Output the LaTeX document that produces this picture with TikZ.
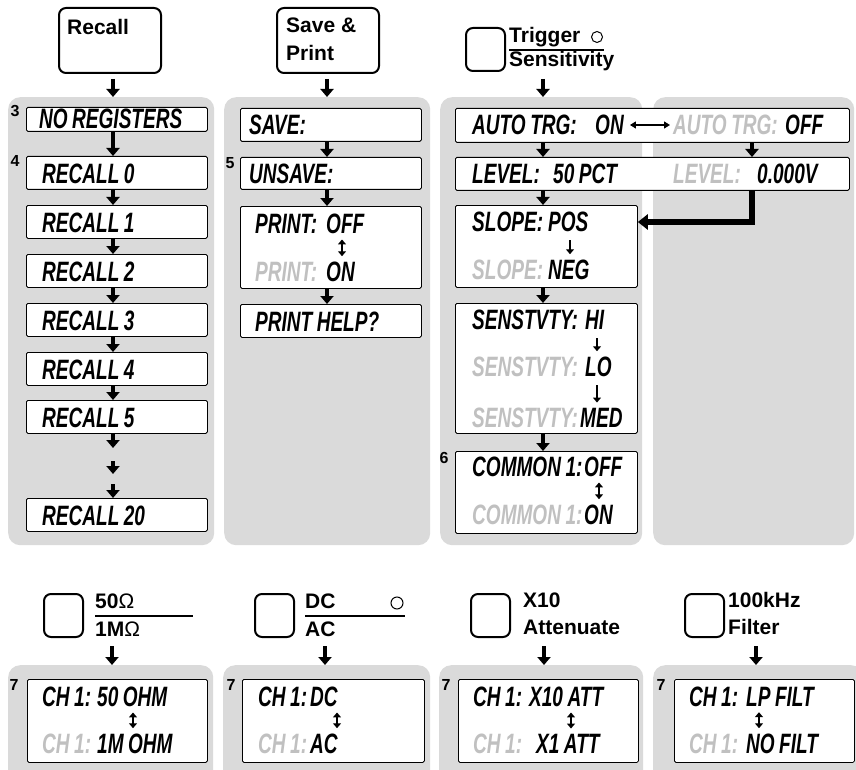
\documentclass[tikz,border=0pt]{standalone}
\usepackage{fontspec}
\setmainfont{Liberation Sans}
\newfontfamily\lcdfamily[FakeStretch=0.68]{Liberation Sans}
\usetikzlibrary{arrows.meta,positioning}

\definecolor{panelgray}{RGB}{218,218,218}
\definecolor{dimgray}{RGB}{192,192,192}

\newcommand{\lcdfont}{\lcdfamily\fontsize{28}{30}\selectfont\bfseries\itshape\spaceskip=0.16em}
\newcommand{\keyfont}{\fontsize{21}{24}\selectfont\bfseries}

\tikzset{
  panel/.style={fill=panelgray, rounded corners=12pt, anchor=north west, inner sep=0pt},
  keybox/.style={draw, line width=2pt, rounded corners=7pt, anchor=north west, inner sep=0pt},
  keysq/.style={keybox, minimum width=39pt, minimum height=43pt},
  lcdbox/.style={draw, fill=white, line width=0.8pt, rounded corners=1.5pt, anchor=north west, inner sep=0pt},
  lcdtext/.style={font=\lcdfont, anchor=base west, inner sep=0pt},
  dimtext/.style={lcdtext, text=dimgray},
  keylabel/.style={font=\keyfont, anchor=base west, inner sep=0pt},
  stepno/.style={font=\fontsize{16}{18}\selectfont\bfseries, inner sep=0pt},
  bigarrow/.style={line width=4.5pt, -{Triangle[width=13pt,length=8pt]}},
  elbowarrow/.style={line width=5.5pt, line join=miter, -{Triangle[width=15pt,length=10pt]}},
  flipflop/.style={line width=1.5pt, {Triangle[width=8pt,length=5pt]}-{Triangle[width=8pt,length=5pt]},
    shorten <=6pt, shorten >=5pt},
  downtick/.style={line width=1.4pt, -{Triangle[width=8pt,length=5pt]}, shorten <=9pt, shorten >=5pt},
}

\begin{document}
\begin{tikzpicture}[x=1pt, y=-1pt]
  \useasboundingbox (0,0) rectangle (856,770);

  % gray panels
  \node[panel, minimum width=206pt, minimum height=448pt] (p1) at (8,97) {};
  \node[panel, minimum width=206pt, minimum height=448pt] (p2) at (224,97) {};
  \node[panel, minimum width=202pt, minimum height=448pt] (p3) at (440,97) {};
  \node[panel, minimum width=201pt, minimum height=448pt] (p4) at (653,97) {};
  \node[panel, minimum width=205pt, minimum height=125pt] (q1) at (8,665) {};
  \node[panel, minimum width=207pt, minimum height=125pt] (q2) at (223,665) {};
  \node[panel, minimum width=204pt, minimum height=125pt] (q3) at (439,665) {};
  \node[panel, minimum width=210pt, minimum height=125pt] (q4) at (653,665) {};

  % arrow columns
  \coordinate (c1) at (113,0);
  \coordinate (c2) at (327,0);
  \coordinate (c3) at (543,0);
  \coordinate (c4) at (752,0);
  \coordinate (d1) at (112,0);
  \coordinate (d2) at (325,0);
  \coordinate (d3) at (544,0);
  \coordinate (d4) at (756,0);

  % ---- Recall ----
  \node[keybox, minimum width=102pt, minimum height=65pt] (recall) at (58,7) {};
  \node[keylabel] at (67,35) {Recall};
  \draw[bigarrow, shorten <=5pt] (recall.south -| c1) -- (p1.north -| c1);

  \node[lcdbox, minimum width=181pt, minimum height=24pt] (noreg) at (26,107) {};
  \node[lcdtext] at (39,129) {NO REGISTERS};
  \node[stepno] at (15,111) {3};
  \foreach \i/\y in {0/156,1/205,2/254,3/303,4/352,5/400,20/498}{
    \node[lcdbox, minimum width=181pt, minimum height=33pt] (rc\i) at (26,\y) {};
    \node[lcdtext] at (42,\y+27) {RECALL \i};
  }
  \node[stepno] at (15,161) {4};
  \draw[bigarrow] (noreg.south -| c1) -- (rc0.north -| c1);
  \foreach \a/\b in {0/1,1/2,2/3,3/4,4/5}{
    \draw[bigarrow] (rc\a.south -| c1) -- (rc\b.north -| c1);
  }
  \coordinate (gap1) at (113,448);
  \coordinate (gap2) at (113,461);
  \coordinate (gap3) at (113,474);
  \coordinate (gap4) at (113,484);
  \draw[bigarrow] (rc5.south -| c1) -- (gap1);
  \draw[bigarrow] (gap2) -- (gap3);
  \draw[bigarrow] (gap4) -- (rc20.north -| c1);

  % ---- Save & Print ----
  \node[keybox, minimum width=102pt, minimum height=65pt] (saveprint) at (276,7) {};
  \node[keylabel] at (286,33) {Save \&};
  \node[keylabel] at (286,61) {Print};
  \draw[bigarrow, shorten <=5pt] (saveprint.south -| c2) -- (p2.north -| c2);

  \node[lcdbox, minimum width=181pt, minimum height=33pt] (save) at (240,108) {};
  \node[lcdtext] at (249,135) {SAVE:};
  \node[lcdbox, minimum width=181pt, minimum height=32pt] (unsave) at (240,157) {};
  \node[lcdtext] at (249,184) {UNSAVE:};
  \node[stepno] at (230,163) {5};
  \node[lcdbox, minimum width=181pt, minimum height=82pt] (print) at (240,206) {};
  \node[lcdtext] at (255,233) {PRINT:};
  \node[lcdtext] (prtoff) at (326,233) {OFF};
  \node[dimtext] at (255,281) {PRINT:};
  \node[lcdtext] (prton) at (326,281) {ON};
  \coordinate (pf) at (342,0);
  \draw[flipflop] (prtoff.south -| pf) -- (prton.north -| pf);
  \node[lcdbox, minimum width=181pt, minimum height=33pt] (help) at (240,304) {};
  \node[lcdtext] at (255,331) {PRINT HELP?};
  \draw[bigarrow] (save.south -| c2) -- (unsave.north -| c2);
  \draw[bigarrow] (unsave.south -| c2) -- (print.north -| c2);
  \draw[bigarrow] (print.south -| c2) -- (help.north -| c2);

  % ---- Trigger / Sensitivity ----
  \node[keysq] (trig) at (465,27) {};
  \node[keylabel] at (509,43) {Trigger};
  \draw[line width=1pt] (597,37) circle (5.5);
  \draw[line width=2.2pt] (509,50) -- (604,50);
  \node[keylabel] at (509,67) {Sensitivity};
  \draw[bigarrow, shorten <=7pt] (trig.south -| c3) -- (p3.north -| c3);

  \node[lcdbox, minimum width=394pt, minimum height=34pt] (auto) at (455,108) {};
  \node[lcdtext] at (472,135) {AUTO TRG:};
  \node[lcdtext] (aon) at (595,135) {ON};
  \node[dimtext] (aoff) at (673,135) {AUTO TRG:};
  \node[lcdtext] at (785,135) {OFF};
  \draw[line width=1.3pt, {Triangle[width=7pt,length=6pt]}-{Triangle[width=7pt,length=6pt]},
    shorten <=6pt, shorten >=3pt] (aon.east |- 0,125) -- (aoff.west |- 0,125);

  \node[lcdbox, minimum width=394pt, minimum height=33pt] (lev) at (455,157) {};
  \node[lcdtext] at (472,184) {LEVEL:};
  \node[lcdtext] at (553,184) {50 PCT};
  \node[dimtext] at (673,184) {LEVEL:};
  \node[lcdtext] at (757,184) {0.000V};

  \node[lcdbox, minimum width=182pt, minimum height=82pt] (slope) at (455,205) {};
  \node[lcdtext] at (472,231) {SLOPE:};
  \node[lcdtext] (spos) at (548,231) {POS};
  \node[dimtext] at (472,279) {SLOPE:};
  \node[lcdtext] (sneg) at (548,279) {NEG};
  \coordinate (sd) at (570,0);
  \draw[downtick] (spos.south -| sd) -- (sneg.north -| sd);

  \node[lcdbox, minimum width=182pt, minimum height=130pt] (sens) at (455,303) {};
  \node[lcdtext] at (472,329) {SENSTVTY:};
  \node[lcdtext] (shi) at (585,329) {HI};
  \node[dimtext] at (472,376) {SENSTVTY:};
  \node[lcdtext] (slo) at (585,376) {LO};
  \node[dimtext] at (472,427) {SENSTVTY:};
  \node[lcdtext] (smed) at (580,427) {MED};
  \coordinate (sv) at (597,0);
  \draw[downtick] (shi.south -| sv) -- (slo.north -| sv);
  \draw[downtick] (slo.south -| sv) -- (smed.north -| sv);

  \node[lcdbox, minimum width=182pt, minimum height=82pt] (common) at (455,451) {};
  \node[stepno] at (444,458) {6};
  \node[lcdtext] at (472,476) {COMMON 1:};
  \node[lcdtext] (coff) at (584,476) {OFF};
  \node[dimtext] at (472,524) {COMMON 1:};
  \node[lcdtext] (con) at (584,524) {ON};
  \coordinate (cv) at (599,0);
  \draw[flipflop] (coff.south -| cv) -- (con.north -| cv);

  \draw[bigarrow] (auto.south -| c3) -- (lev.north -| c3);
  \draw[bigarrow] (auto.south -| c4) -- (lev.north -| c4);
  \draw[bigarrow] (lev.south -| c3) -- (slope.north -| c3);
  \draw[bigarrow] (slope.south -| c3) -- (sens.north -| c3);
  \draw[bigarrow] (sens.south -| c3) -- (common.north -| c3);
  \coordinate (bend) at (752,222);
  \draw[elbowarrow] (lev.south -| bend) |- (slope.east |- bend);

  % ---- bottom keys ----
  \node[keysq] (kohm) at (43,593) {};
  \node[keylabel] at (95,608) {50\textmd{Ω}};
  \draw[line width=2.5pt] (95,616) -- (193,616);
  \node[keylabel] at (95,636) {1M\textmd{Ω}};
  \draw[bigarrow, shorten <=8pt] (kohm.south -| d1) -- (q1.north -| d1);

  \node[keysq] (kdc) at (254,593) {};
  \node[keylabel] at (305,608) {DC};
  \draw[line width=1pt] (397,603) circle (6);
  \draw[line width=2.5pt] (305,616) -- (405,616);
  \node[keylabel] at (305,636) {AC};
  \draw[bigarrow, shorten <=8pt] (kdc.south -| d2) -- (q2.north -| d2);

  \node[keysq] (katt) at (470,593) {};
  \node[keylabel] at (523,607) {X10};
  \node[keylabel] at (523,634) {Attenuate};
  \draw[bigarrow, shorten <=8pt] (katt.south -| d3) -- (q3.north -| d3);

  \node[keysq] (kflt) at (684,593) {};
  \node[keylabel] at (728,607) {100kHz};
  \node[keylabel] at (728,634) {Filter};
  \draw[bigarrow, shorten <=8pt] (kflt.south -| d4) -- (q4.north -| d4);

  % ---- bottom displays ----
  \node[lcdbox, minimum width=180pt, minimum height=83pt] (ohm) at (27,679) {};
  \node[stepno] at (14,685) {7};
  \node[lcdtext] at (42,706) {CH 1:};
  \node[lcdtext] (o50) at (97,706) {50 OHM};
  \node[dimtext] at (42,753) {CH 1:};
  \node[lcdtext] (o1m) at (97,753) {1M OHM};
  \coordinate (ov) at (133,0);
  \draw[flipflop] (o50.south -| ov) -- (o1m.north -| ov);

  \node[lcdbox, minimum width=182pt, minimum height=83pt] (dcac) at (242,679) {};
  \node[stepno] at (231,685) {7};
  \node[lcdtext] at (258,706) {CH 1:};
  \node[lcdtext] (vdc) at (310,706) {DC};
  \node[dimtext] at (258,753) {CH 1:};
  \node[lcdtext] (vac) at (310,753) {AC};
  \coordinate (dv) at (337,0);
  \draw[flipflop] (vdc.south -| dv) -- (vac.north -| dv);

  \node[lcdbox, minimum width=180pt, minimum height=83pt] (att) at (458,679) {};
  \node[stepno] at (446,685) {7};
  \node[lcdtext] at (473,706) {CH 1:};
  \node[lcdtext] (x10) at (529,706) {X10 ATT};
  \node[dimtext] at (473,753) {CH 1:};
  \node[lcdtext] (x1) at (536,753) {X1 ATT};
  \coordinate (av) at (571,0);
  \draw[flipflop] (x10.south -| av) -- (x1.north -| av);

  \node[lcdbox, minimum width=180pt, minimum height=83pt] (flt) at (674,679) {};
  \node[stepno] at (661,685) {7};
  \node[lcdtext] at (689,706) {CH 1:};
  \node[lcdtext] (lpf) at (746,706) {LP FILT};
  \node[dimtext] at (689,753) {CH 1:};
  \node[lcdtext] (nof) at (746,753) {NO FILT};
  \coordinate (fv) at (759,0);
  \draw[flipflop] (lpf.south -| fv) -- (nof.north -| fv);

\end{tikzpicture}
\end{document}
